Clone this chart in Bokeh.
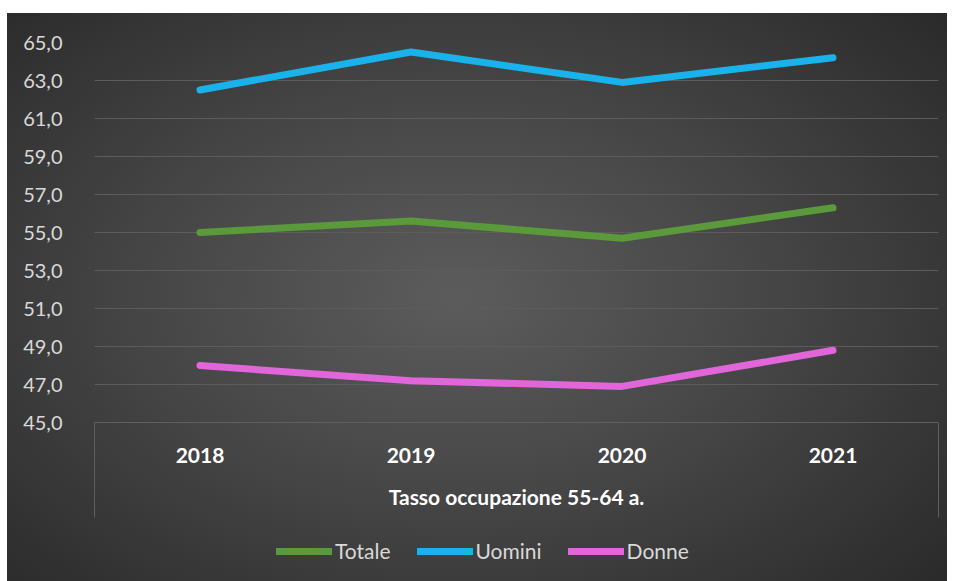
from bokeh.plotting import figure
from bokeh.layouts import column
from bokeh.models import (ColumnDataSource, Range1d, FixedTicker, CustomJSTickFormatter,
                          Legend, LegendItem, Title)
from bokeh.embed import file_html
from bokeh.resources import INLINE

years = ["2018", "2019", "2020", "2021"]
totale = [55.0, 55.6, 54.7, 56.3]
uomini = [62.5, 64.5, 62.9, 64.2]
donne = [48.0, 47.2, 46.9, 48.8]
y_ticks = [45, 47, 49, 51, 53, 55, 57, 59, 61, 63, 65]
group_label = "Tasso occupazione 55-64 a."
series_names = ["Totale", "Uomini", "Donne"]
series_colors = ["#5a9a3a", "#1ab2ea", "#e066d9"]

FONT = "Lato"
x_pos = list(range(len(years)))

p = figure(x_range=Range1d(-0.5, len(years) - 0.5), y_range=Range1d(45, 65),
           frame_width=844, frame_height=380,
           output_backend="svg", toolbar_location=None,
           min_border_left=87, min_border_right=9, min_border_top=29, min_border_bottom=112)
p.background_fill_color = None
p.border_fill_color = None
p.outline_line_color = None

src = ColumnDataSource(dict(x=x_pos, totale=totale, uomini=uomini, donne=donne))
cols = ["totale", "uomini", "donne"]
for col, color in zip(cols, series_colors):
    p.line("x", col, source=src, line_color=color, line_width=7,
           line_cap="round", line_join="round")

# y axis
p.yaxis.ticker = FixedTicker(ticks=y_ticks)
p.yaxis.formatter = CustomJSTickFormatter(code="return tick.toFixed(1).replace('.', ',');")
p.yaxis.axis_line_color = None
p.yaxis.major_tick_line_color = None
p.yaxis.minor_tick_line_color = None
p.yaxis.major_label_standoff = 26
p.yaxis.major_label_text_color = "#d9d9d9"
p.yaxis.major_label_text_font = FONT
p.yaxis.major_label_text_font_size = "20px"

p.ygrid.ticker = FixedTicker(ticks=y_ticks)
p.ygrid.grid_line_color = "#5c5c5c"
p.ygrid.grid_line_width = 1
p.xgrid.grid_line_color = None

# x axis: category labels, with the box side lines drawn as long minor ticks at the range ends
p.xaxis.ticker = FixedTicker(ticks=x_pos, minor_ticks=[-0.5, len(years) - 0.5])
p.xaxis.major_label_overrides = {i: y for i, y in zip(x_pos, years)}
p.xaxis.axis_line_color = "#5f5f5f"
p.xaxis.major_tick_out = 0
p.xaxis.major_tick_in = 0
p.xaxis.minor_tick_out = 95
p.xaxis.minor_tick_in = 0
p.xaxis.minor_tick_line_color = "#5f5f5f"
p.xaxis.minor_tick_line_width = 1
p.xaxis.major_label_standoff = -70
p.xaxis.major_label_text_color = "#ffffff"
p.xaxis.major_label_text_font = FONT
p.xaxis.major_label_text_font_style = "bold"
p.xaxis.major_label_text_font_size = "21px"

t = Title(text=group_label, align="center", text_color="#ffffff", text_font=FONT,
          text_font_style="bold", text_font_size="21px", standoff=33)
p.add_layout(t, "below")

# legend strip (its series lines fall outside this strip's range, only the legend shows)
p2 = figure(width=940, height=47, output_backend="svg", toolbar_location=None,
            x_range=p.x_range, y_range=Range1d(0, 1),
            x_axis_location=None, y_axis_location=None,
            min_border_left=87, min_border_right=9, min_border_top=0, min_border_bottom=0)
p2.background_fill_color = None
p2.border_fill_color = None
p2.outline_line_color = None
p2.grid.visible = False
leg_renderers = []
for col, color in zip(cols, series_colors):
    leg_renderers.append(p2.line("x", col, source=src, line_color=color, line_width=7,
                                 line_cap="round"))
legend = Legend(items=[LegendItem(label=n, renderers=[r]) for n, r in zip(series_names, leg_renderers)],
                orientation="horizontal", location=(182, 18),
                glyph_width=56, glyph_height=10, label_standoff=3, spacing=26,
                label_text_color="#d9d9d9", label_text_font=FONT, label_text_font_size="21px",
                background_fill_alpha=0, border_line_color=None, padding=2, margin=0)
p2.add_layout(legend, "center")

layout = column(p, p2, spacing=0)
layout.styles = {"background": "radial-gradient(ellipse 70% 75% at 48% 50%, #5c5c5c 0%, #474747 45%, #2a2a2a 100%)",
                 "margin-top": "13px", "margin-left": "7px"}

open("out.html", "w").write(file_html(layout, INLINE))
